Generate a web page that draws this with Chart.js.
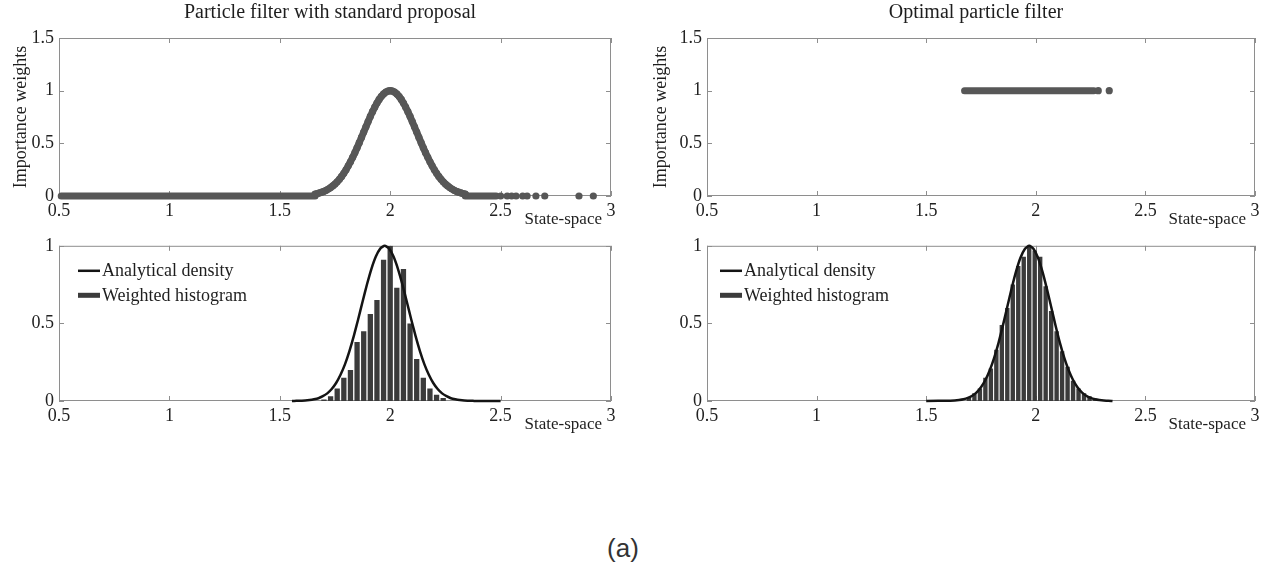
<!DOCTYPE html>
<html>
<head>
<meta charset="utf-8">
<title>Particle filter weights</title>
<script src="https://cdn.jsdelivr.net/npm/chart.js@4.4.1/dist/chart.umd.min.js"></script>
<style>
  html, body { margin: 0; padding: 0; background: #fff; }
  #wrap { position: relative; width: 1273px; height: 577px; overflow: hidden; background: #fff; }
  canvas { position: absolute; }
  #caption { position: absolute; left: 623px; top: 532px; transform: translateX(-50%);
             font: 26px "Liberation Sans", Arial, sans-serif; color: #333; line-height: 32px; }
</style>
</head>
<body>
<div id="wrap">
  <canvas id="stdWeights" width="630" height="232" style="left:0;top:0"></canvas>
  <canvas id="optWeights" width="633" height="232" style="left:640px;top:0"></canvas>
  <canvas id="stdHist" width="630" height="205" style="left:0;top:230px"></canvas>
  <canvas id="optHist" width="633" height="205" style="left:640px;top:230px"></canvas>
  <div id="caption">(a)</div>
</div>
<script>
// Axis ticks (shared by all four panels)
const xTicks = [0.5, 1, 1.5, 2, 2.5, 3];
const weightTicks = [0, 0.5, 1, 1.5];
const densityTicks = [0, 0.5, 1];

// Standard proposal: importance weights of the particles
const stdWeightX = [1.66, 1.67, 1.68, 1.69, 1.70, 1.71, 1.72, 1.73, 1.74, 1.75, 1.76, 1.77, 1.78, 1.79,
  1.80, 1.81, 1.82, 1.83, 1.84, 1.85, 1.86, 1.87, 1.88, 1.89, 1.90, 1.91, 1.92, 1.93, 1.94, 1.95,
  1.96, 1.97, 1.98, 1.99, 2.00, 2.01, 2.02, 2.03, 2.04, 2.05, 2.06, 2.07, 2.08, 2.09, 2.10, 2.11,
  2.12, 2.13, 2.14, 2.15, 2.16, 2.17, 2.18, 2.19, 2.20, 2.21, 2.22, 2.23, 2.24, 2.25, 2.26, 2.27,
  2.28, 2.29, 2.30, 2.31, 2.32, 2.33, 2.34];
const stdWeightY = [0.018, 0.023, 0.029, 0.036, 0.044, 0.054, 0.066, 0.080, 0.096, 0.114, 0.135, 0.159,
  0.186, 0.216, 0.249, 0.286, 0.325, 0.367, 0.411, 0.458, 0.506, 0.556, 0.607, 0.657, 0.707, 0.755,
  0.801, 0.843, 0.882, 0.917, 0.946, 0.969, 0.986, 0.997, 1.000, 0.997, 0.986, 0.969, 0.946, 0.917,
  0.882, 0.843, 0.801, 0.755, 0.707, 0.657, 0.607, 0.556, 0.506, 0.458, 0.411, 0.367, 0.325, 0.286,
  0.249, 0.216, 0.186, 0.159, 0.135, 0.114, 0.096, 0.080, 0.066, 0.054, 0.044, 0.036, 0.029, 0.023, 0.018];
// dense runs of zero-weight particles (drawn as a band) and isolated tail particles
const stdZeroBandLeft = [0.51, 1.66];
const stdZeroBandRight = [2.34, 2.48];
const stdTailX = [2.50, 2.53, 2.55, 2.57, 2.60, 2.62, 2.66, 2.70, 2.855, 2.92];

// Optimal proposal: all weights equal to one
const optBand = [1.675, 2.265];
const optTailX = [2.285, 2.335];

// Standard proposal: weighted histogram and analytical density
const stdBinX = [1.70, 1.73, 1.76, 1.79, 1.82, 1.85, 1.88, 1.91, 1.94, 1.97, 2.00, 2.03, 2.06, 2.09,
  2.12, 2.15, 2.18, 2.21, 2.24];
const stdBinY = [0.01, 0.03, 0.08, 0.15, 0.20, 0.38, 0.45, 0.56, 0.65, 0.91, 1.00, 0.73, 0.85, 0.50,
  0.27, 0.15, 0.08, 0.04, 0.02];
const stdDensX = [1.555, 1.575, 1.595, 1.615, 1.635, 1.655, 1.675, 1.695, 1.715, 1.735, 1.755, 1.775,
  1.795, 1.815, 1.835, 1.855, 1.875, 1.895, 1.915, 1.935, 1.955, 1.975, 1.995, 2.015, 2.035, 2.055,
  2.075, 2.095, 2.115, 2.135, 2.155, 2.175, 2.195, 2.215, 2.235, 2.255, 2.275, 2.295, 2.315, 2.335,
  2.355, 2.375, 2.395, 2.5];
const stdDensY = [0, 0.001, 0.002, 0.003, 0.006, 0.011, 0.018, 0.031, 0.049, 0.077, 0.116, 0.169,
  0.236, 0.320, 0.418, 0.527, 0.641, 0.752, 0.852, 0.931, 0.982, 1.000, 0.982, 0.931, 0.852, 0.752,
  0.641, 0.527, 0.418, 0.320, 0.236, 0.169, 0.116, 0.077, 0.049, 0.031, 0.018, 0.011, 0.006, 0.003,
  0.002, 0.001, 0, 0];

// Optimal proposal: weighted histogram and analytical density
const optBinX = [1.695, 1.72, 1.745, 1.77, 1.795, 1.82, 1.845, 1.87, 1.895, 1.92, 1.945, 1.97, 1.995,
  2.02, 2.045, 2.07, 2.095, 2.12, 2.145, 2.17, 2.195, 2.22, 2.245, 2.27, 2.295];
const optBinY = [0.02, 0.05, 0.08, 0.15, 0.21, 0.33, 0.49, 0.60, 0.75, 0.87, 0.93, 1.00, 0.97, 0.93,
  0.74, 0.58, 0.45, 0.32, 0.22, 0.13, 0.08, 0.05, 0.03, 0.015, 0.005];
const optDensX = [1.50, 1.61, 1.63, 1.65, 1.67, 1.69, 1.71, 1.73, 1.75, 1.77, 1.79, 1.81, 1.83, 1.85,
  1.87, 1.89, 1.91, 1.93, 1.95, 1.97, 1.99, 2.01, 2.03, 2.05, 2.07, 2.09, 2.11, 2.13, 2.15, 2.17,
  2.19, 2.21, 2.23, 2.25, 2.27, 2.29, 2.31, 2.33, 2.35];
const optDensY = [0, 0.002, 0.003, 0.006, 0.011, 0.020, 0.034, 0.056, 0.089, 0.135, 0.198, 0.278,
  0.375, 0.487, 0.607, 0.726, 0.835, 0.923, 0.980, 1.000, 0.980, 0.923, 0.835, 0.726, 0.607, 0.487,
  0.375, 0.278, 0.198, 0.135, 0.089, 0.056, 0.034, 0.020, 0.011, 0.006, 0.003, 0.002, 0];

const serif = '"Liberation Serif", "Times New Roman", serif';
Chart.defaults.font.family = serif;
Chart.defaults.color = '#222';

const dotColor = '#575757';
const barColor = '#3b3b3b';
const lineColor = '#141414';

function pairs(xs, ys) {
  return xs.map((x, i) => ({ x: x, y: ys[i] }));
}

// MATLAB-like axes: box, inward ticks, panel title, "State-space" label, legend
const matlabBox = {
  id: 'matlabBox',
  beforeDatasetsDraw(chart) {
    const { ctx, chartArea: a, scales } = chart;
    ctx.save();
    ctx.strokeStyle = '#8e8e8e';
    ctx.lineWidth = 1;
    ctx.strokeRect(a.left + 0.5, a.top + 0.5, a.width - 1, a.height - 1);
    ctx.beginPath();
    scales.x.ticks.forEach(t => {
      const px = Math.round(scales.x.getPixelForValue(t.value)) + 0.5;
      ctx.moveTo(px, a.bottom); ctx.lineTo(px, a.bottom - 5);
      ctx.moveTo(px, a.top); ctx.lineTo(px, a.top + 5);
    });
    scales.y.ticks.forEach(t => {
      const py = Math.round(scales.y.getPixelForValue(t.value)) + 0.5;
      ctx.moveTo(a.left, py); ctx.lineTo(a.left + 5, py);
      ctx.moveTo(a.right, py); ctx.lineTo(a.right - 5, py);
    });
    ctx.stroke();
    ctx.restore();
  },
  afterDraw(chart, args, o) {
    const { ctx, chartArea: a } = chart;
    ctx.save();
    ctx.fillStyle = '#1e1e1e';
    ctx.textBaseline = 'middle';
    if (o.title) {
      ctx.font = '20px ' + serif;
      ctx.textAlign = 'center';
      ctx.fillText(o.title, (a.left + a.right) / 2 - 5, 13);
    }
    ctx.font = '17px ' + serif;
    ctx.textAlign = 'right';
    ctx.fillText('State-space', a.right - 9, a.bottom + 24);
    if (o.legend) {
      const sx = a.left + o.legend.offset;
      ctx.strokeStyle = lineColor;
      ctx.lineWidth = 2.5;
      ctx.beginPath();
      ctx.moveTo(sx, a.top + 25); ctx.lineTo(sx + 22, a.top + 25);
      ctx.stroke();
      ctx.fillStyle = barColor;
      ctx.fillRect(sx, a.top + 47, 22, 5);
      ctx.fillStyle = '#1e1e1e';
      ctx.font = '18px ' + serif;
      ctx.textAlign = 'left';
      ctx.fillText('Analytical density', sx + 24, a.top + 25);
      ctx.fillText('Weighted histogram', sx + 24, a.top + 50);
    }
    ctx.restore();
  }
};

function xScale(height) {
  return {
    type: 'linear', min: xTicks[0], max: xTicks[xTicks.length - 1], offset: false,
    afterFit: s => { s.height = height; },
    afterBuildTicks: s => { s.ticks = xTicks.map(v => ({ value: v })); },
    grid: { display: false, drawTicks: false },
    border: { display: false },
    ticks: { padding: 4, maxRotation: 0, autoSkip: false, font: { size: 18 }, color: '#222',
             callback: v => String(v) }
  };
}

function yScale(width, ticks, title) {
  return {
    type: 'linear', min: ticks[0], max: ticks[ticks.length - 1],
    afterFit: s => { s.width = width; },
    afterBuildTicks: s => { s.ticks = ticks.map(v => ({ value: v })); },
    grid: { display: false, drawTicks: false },
    border: { display: false },
    ticks: { padding: 5, font: { size: 18 }, color: '#222', callback: v => String(v) },
    title: { display: !!title, text: title || '', font: { size: 18 }, color: '#1e1e1e', padding: { top: 10, bottom: 0 } }
  };
}

function baseOptions(yWidth, yTicks, yTitle, xHeight, padTop, padRight, box) {
  return {
    responsive: false,
    animation: false,
    layout: { padding: { top: padTop, right: padRight, bottom: 0, left: 0 } },
    plugins: { legend: { display: false }, tooltip: { enabled: false }, matlabBox: box },
    scales: { x: xScale(xHeight), y: yScale(yWidth, yTicks, yTitle) }
  };
}

function band(xs, y) {
  return {
    type: 'line', data: xs.map(x => ({ x: x, y: y })), showLine: true,
    borderColor: dotColor, borderWidth: 7, borderCapStyle: 'round',
    pointRadius: 0, clip: false
  };
}

// particle markers; when joined, a thick stroke fills the gaps between neighbouring markers
function dots(data, joined) {
  return {
    data: data, backgroundColor: dotColor, borderColor: dotColor,
    showLine: !!joined, borderWidth: 7, borderJoinStyle: 'round', borderCapStyle: 'round',
    pointRadius: 3.6, pointBorderWidth: 0, clip: false
  };
}

// Top-left: weights with the standard proposal
new Chart(document.getElementById('stdWeights'), {
  type: 'scatter',
  data: {
    datasets: [
      dots(pairs(stdWeightX, stdWeightY), true),
      dots(stdTailX.map(x => ({ x: x, y: 0 }))),
      band(stdZeroBandLeft, 0),
      band(stdZeroBandRight, 0)
    ]
  },
  options: baseOptions(59, weightTicks, 'Importance weights', 36, 38, 19,
    { title: 'Particle filter with standard proposal' }),
  plugins: [matlabBox]
});

// Top-right: weights with the optimal proposal
new Chart(document.getElementById('optWeights'), {
  type: 'scatter',
  data: {
    datasets: [
      dots(optTailX.map(x => ({ x: x, y: 1 }))),
      band(optBand, 1)
    ]
  },
  options: baseOptions(67, weightTicks, 'Importance weights', 36, 38, 18,
    { title: 'Optimal particle filter' }),
  plugins: [matlabBox]
});

function histChart(id, binX, binY, densX, densY, yWidth, padRight, legendOffset) {
  return new Chart(document.getElementById(id), {
    type: 'bar',
    data: {
      datasets: [
        {
          type: 'line', label: 'Analytical density', data: pairs(densX, densY),
          borderColor: lineColor, borderWidth: 2.5, pointRadius: 0, tension: 0.2, clip: false
        },
        {
          type: 'bar', label: 'Weighted histogram', data: pairs(binX, binY),
          backgroundColor: barColor, borderWidth: 0,
          barPercentage: 0.8, categoryPercentage: 1
        }
      ]
    },
    options: baseOptions(yWidth, densityTicks, null, 34, 13, padRight,
      { legend: { offset: legendOffset } }),
    plugins: [matlabBox]
  });
}

histChart('stdHist', stdBinX, stdBinY, stdDensX, stdDensY, 59, 19, 19);
histChart('optHist', optBinX, optBinY, optDensX, optDensY, 67, 18, 13);
</script>
</body>
</html>
